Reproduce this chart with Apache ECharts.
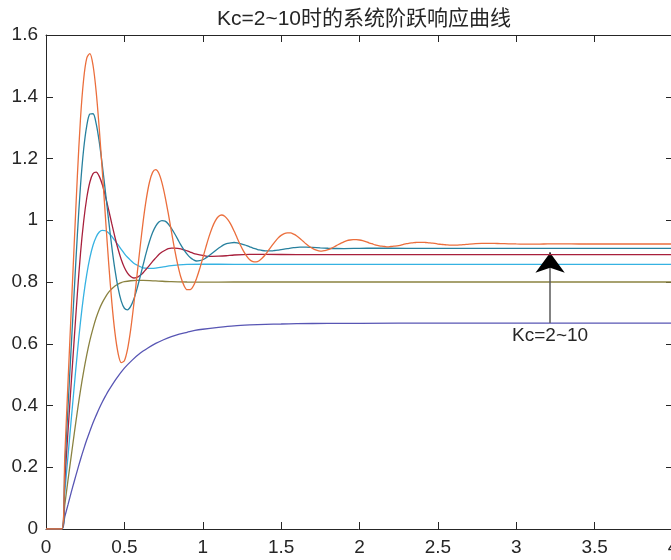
<!DOCTYPE html>
<html>
<head>
<meta charset="utf-8">
<script src="https://cdn.jsdelivr.net/npm/echarts@6/dist/echarts.min.js"></script>
<style>
  html, body { margin: 0; padding: 0; background: #ffffff; }
  #chart { width: 671px; height: 560px; }
</style>
</head>
<body>
<div id="chart"></div>
<script>
// Step responses of the P-controlled loop, one curve per gain Kc.
// Each entry is [time in s, output].
const kcValues = [2, 4, 6, 8, 10, 12];

const respKc2 = [
  [0, 0], [0.1, 0], [0.12, 0.040], [0.14, 0.078], [0.16, 0.117], [0.18, 0.154], [0.2, 0.190],
  [0.22, 0.225], [0.24, 0.258], [0.26, 0.289], [0.28, 0.317], [0.3, 0.344], [0.32, 0.368],
  [0.34, 0.391], [0.36, 0.412], [0.38, 0.431], [0.4, 0.449], [0.45, 0.488], [0.5, 0.521],
  [0.55, 0.547], [0.6, 0.569], [0.65, 0.586], [0.7, 0.601], [0.75, 0.613], [0.8, 0.623],
  [0.85, 0.631], [0.9, 0.637], [0.95, 0.643], [1.0, 0.647], [1.1, 0.653], [1.2, 0.658],
  [1.3, 0.661], [1.4, 0.663], [1.5, 0.664], [1.6, 0.665], [1.8, 0.666], [2.0, 0.6663],
  [2.5, 0.6666], [4, 0.6667]
];

const respKc4 = [
  [0, 0], [0.1, 0], [0.12, 0.079], [0.14, 0.157], [0.16, 0.233], [0.18, 0.308], [0.2, 0.381],
  [0.22, 0.449], [0.24, 0.510], [0.26, 0.564], [0.28, 0.611], [0.3, 0.650], [0.32, 0.684],
  [0.34, 0.712], [0.36, 0.734], [0.38, 0.752], [0.4, 0.767], [0.42, 0.778], [0.44, 0.787],
  [0.46, 0.793], [0.48, 0.798], [0.5, 0.801], [0.54, 0.804], [0.58, 0.805], [0.62, 0.805],
  [0.7, 0.8035], [0.8, 0.801], [0.9, 0.800], [1.0, 0.7997], [1.2, 0.800], [4, 0.800]
];

const respKc6 = [
  [0, 0], [0.1, 0], [0.12, 0.119], [0.14, 0.235], [0.16, 0.349], [0.18, 0.461], [0.2, 0.571],
  [0.22, 0.671], [0.24, 0.756], [0.26, 0.825], [0.28, 0.879], [0.3, 0.919], [0.32, 0.946],
  [0.34, 0.962], [0.36, 0.967], [0.38, 0.966], [0.4, 0.959], [0.42, 0.948], [0.44, 0.934],
  [0.46, 0.920], [0.48, 0.906], [0.5, 0.892], [0.52, 0.880], [0.54, 0.870], [0.56, 0.861],
  [0.58, 0.855], [0.6, 0.850], [0.62, 0.846], [0.64, 0.845], [0.66, 0.844], [0.68, 0.844],
  [0.7, 0.845], [0.74, 0.848], [0.8, 0.853], [0.9, 0.857], [1.0, 0.858], [1.2, 0.857], [4, 0.857]
];

const respKc8 = [
  [0, 0], [0.1, 0], [0.12, 0.158], [0.14, 0.314], [0.16, 0.466], [0.18, 0.615], [0.2, 0.761],
  [0.22, 0.892], [0.24, 0.995], [0.26, 1.072], [0.28, 1.124], [0.3, 1.151], [0.32, 1.156],
  [0.34, 1.142], [0.36, 1.114], [0.38, 1.076], [0.4, 1.033], [0.42, 0.988], [0.44, 0.945],
  [0.46, 0.906], [0.48, 0.873], [0.5, 0.847], [0.52, 0.829], [0.54, 0.818], [0.56, 0.813],
  [0.58, 0.815], [0.6, 0.821], [0.62, 0.830], [0.64, 0.842], [0.66, 0.854], [0.68, 0.867],
  [0.7, 0.878], [0.72, 0.889], [0.74, 0.897], [0.76, 0.903], [0.78, 0.908], [0.8, 0.910],
  [0.82, 0.910], [0.84, 0.909], [0.86, 0.907], [0.88, 0.904], [0.9, 0.901], [0.92, 0.897],
  [0.94, 0.893], [0.96, 0.890], [0.98, 0.888], [1.0, 0.886], [1.02, 0.884], [1.04, 0.883],
  [1.06, 0.883], [1.1, 0.8835], [1.15, 0.885], [1.2, 0.8875], [1.3, 0.8895], [1.4, 0.8893],
  [1.6, 0.8889], [4, 0.8889]
];

const respKc10 = [
  [0, 0], [0.1, 0], [0.12, 0.198], [0.14, 0.392], [0.16, 0.582], [0.18, 0.769], [0.2, 0.952],
  [0.22, 1.111], [0.24, 1.229], [0.26, 1.306], [0.28, 1.344], [0.3, 1.345], [0.32, 1.313],
  [0.34, 1.253], [0.36, 1.175], [0.38, 1.088], [0.4, 0.998], [0.42, 0.913], [0.44, 0.839],
  [0.46, 0.780], [0.48, 0.738], [0.5, 0.715], [0.52, 0.710], [0.54, 0.721], [0.56, 0.744],
  [0.58, 0.777], [0.6, 0.816], [0.62, 0.856], [0.64, 0.896], [0.66, 0.931], [0.68, 0.960],
  [0.7, 0.981], [0.72, 0.994], [0.74, 0.999], [0.76, 0.997], [0.78, 0.988], [0.8, 0.974],
  [0.82, 0.957], [0.84, 0.939], [0.86, 0.920], [0.88, 0.904], [0.9, 0.890], [0.92, 0.879],
  [0.94, 0.872], [0.96, 0.868], [0.98, 0.869], [1.0, 0.872], [1.02, 0.878], [1.04, 0.885],
  [1.06, 0.893], [1.08, 0.901], [1.1, 0.909], [1.12, 0.916], [1.14, 0.922], [1.16, 0.925],
  [1.18, 0.927], [1.2, 0.928], [1.22, 0.927], [1.24, 0.924], [1.26, 0.921], [1.28, 0.918],
  [1.3, 0.914], [1.32, 0.910], [1.34, 0.907], [1.36, 0.904], [1.38, 0.902], [1.4, 0.901],
  [1.42, 0.901], [1.44, 0.901], [1.46, 0.902], [1.48, 0.903], [1.5, 0.905], [1.54, 0.908],
  [1.58, 0.911], [1.62, 0.913], [1.66, 0.913], [1.7, 0.912], [1.75, 0.9105], [1.8, 0.9093],
  [1.85, 0.9085], [1.9, 0.9083], [2.0, 0.909], [2.1, 0.9095], [2.3, 0.9091], [4, 0.9091]
];

const respKc12 = [
  [0, 0], [0.1, 0], [0.12, 0.238], [0.14, 0.471], [0.16, 0.699], [0.18, 0.923], [0.2, 1.142],
  [0.22, 1.329], [0.24, 1.456], [0.26, 1.525], [0.28, 1.540], [0.3, 1.502], [0.32, 1.417],
  [0.34, 1.295], [0.36, 1.153], [0.38, 1.004], [0.4, 0.860], [0.42, 0.734], [0.44, 0.635],
  [0.46, 0.569], [0.48, 0.539], [0.5, 0.545], [0.52, 0.582], [0.54, 0.645], [0.56, 0.727],
  [0.58, 0.819], [0.6, 0.911], [0.62, 0.997], [0.64, 1.069], [0.66, 1.123], [0.68, 1.155],
  [0.7, 1.164], [0.72, 1.152], [0.74, 1.121], [0.76, 1.076], [0.78, 1.022], [0.8, 0.964],
  [0.82, 0.907], [0.84, 0.857], [0.86, 0.816], [0.88, 0.789], [0.9, 0.775], [0.92, 0.775],
  [0.94, 0.787], [0.96, 0.811], [0.98, 0.842], [1.0, 0.877], [1.02, 0.913], [1.04, 0.947],
  [1.06, 0.976], [1.08, 0.998], [1.1, 1.012], [1.12, 1.017], [1.14, 1.013], [1.16, 1.002],
  [1.18, 0.986], [1.2, 0.965], [1.22, 0.942], [1.24, 0.920], [1.26, 0.900], [1.28, 0.884],
  [1.3, 0.872], [1.32, 0.866], [1.34, 0.865], [1.36, 0.869], [1.38, 0.878], [1.4, 0.889],
  [1.42, 0.903], [1.44, 0.917], [1.46, 0.930], [1.48, 0.942], [1.5, 0.951], [1.52, 0.957],
  [1.54, 0.959], [1.56, 0.959], [1.58, 0.955], [1.6, 0.949], [1.62, 0.941], [1.64, 0.932],
  [1.66, 0.923], [1.68, 0.915], [1.7, 0.909], [1.72, 0.904], [1.74, 0.901], [1.76, 0.900],
  [1.78, 0.902], [1.8, 0.905], [1.82, 0.909], [1.84, 0.914], [1.86, 0.920], [1.88, 0.925],
  [1.9, 0.930], [1.92, 0.934], [1.94, 0.936], [1.96, 0.937], [1.98, 0.937], [2.0, 0.936],
  [2.02, 0.934], [2.04, 0.931], [2.06, 0.927], [2.08, 0.924], [2.1, 0.920], [2.12, 0.918],
  [2.14, 0.916], [2.16, 0.915], [2.18, 0.914], [2.2, 0.915], [2.22, 0.916], [2.24, 0.917],
  [2.26, 0.919], [2.28, 0.922], [2.3, 0.924], [2.32, 0.926], [2.34, 0.927], [2.36, 0.928],
  [2.38, 0.9286], [2.4, 0.9286], [2.42, 0.928], [2.44, 0.927], [2.46, 0.926], [2.48, 0.925],
  [2.5, 0.923], [2.52, 0.922], [2.54, 0.921], [2.56, 0.920], [2.58, 0.9197], [2.6, 0.9195],
  [2.62, 0.9197], [2.64, 0.920], [2.66, 0.921], [2.68, 0.9216], [2.7, 0.9225], [2.74, 0.924],
  [2.78, 0.925], [2.82, 0.9253], [2.86, 0.925], [2.9, 0.9245], [2.95, 0.9238], [3.0, 0.9232],
  [3.05, 0.9228], [3.1, 0.9227], [3.15, 0.9229], [3.2, 0.9233], [3.25, 0.9234], [3.35, 0.9232],
  [3.45, 0.923], [3.6, 0.9231], [4, 0.9231]
];

// Axis ranges and tick steps
const timeRange = [0, 4];
const timeStep = 0.5;
const outputRange = [0, 1.6];
const outputStep = 0.2;

// Annotation arrow (time, from output, to output) and its caption
const arrowTime = 3.216;
const arrowFrom = 0.667;
const arrowTo = 0.927;
const arrowCaption = 'Kc=2~10';
const titleText = 'Kc=2~10时的系统阶跃响应曲线';

// ---- styling ----
const lineColors = ['#5856b4', '#8a8240', '#36b2e2', '#a8203c', '#27809e', '#eb6e3c'];
const responses = [respKc2, respKc4, respKc6, respKc8, respKc10, respKc12];
const axisColor = '#262626';
const latinFont = "'Liberation Sans', Arial, Helvetica, sans-serif";
const titleFont = "'Liberation Sans', 'Noto Sans CJK SC', sans-serif";

const chart = echarts.init(document.getElementById('chart'), null, { renderer: 'canvas' });

function boxAxis(extra) {
  return Object.assign({
    type: 'value',
    axisLine: { show: true, onZero: false, lineStyle: { color: axisColor, width: 1 } },
    axisTick: { show: true, inside: true, length: 7, lineStyle: { color: axisColor, width: 1 } },
    splitLine: { show: false },
    axisLabel: { show: false }
  }, extra);
}

const series = responses.map((data, i) => ({
  type: 'line',
  name: 'Kc=' + kcValues[i],
  data: data,
  xAxisIndex: 0,
  yAxisIndex: 0,
  symbol: 'none',
  showSymbol: false,
  smooth: 0.3,
  clip: true,
  silent: true,
  z: 2 + i,
  lineStyle: { width: 1.3, color: lineColors[i] },
  itemStyle: { color: lineColors[i] }
}));

// Arrow and caption
series.push({
  type: 'line',
  data: [],
  xAxisIndex: 0,
  yAxisIndex: 0,
  silent: true,
  z: 20,
  markLine: {
    silent: true,
    symbol: ['none', 'none'],
    animation: false,
    label: { show: false },
    lineStyle: { color: '#5a5a5a', width: 1.5, type: 'solid' },
    data: [[{ coord: [arrowTime, arrowFrom] }, { coord: [arrowTime, arrowTo - 0.03] }]]
  },
  markPoint: {
    silent: true,
    animation: false,
    data: [
      {
        coord: [arrowTime, arrowTo],
        symbol: 'arrow',
        symbolSize: [22, 20],
        symbolOffset: [0, 10],
        itemStyle: { color: '#000000' },
        label: { show: false }
      },
      {
        coord: [arrowTime, arrowFrom],
        symbol: 'circle',
        symbolSize: 1,
        itemStyle: { color: 'rgba(0,0,0,0)' },
        label: {
          show: true, position: 'bottom', distance: 3,
          formatter: arrowCaption, color: axisColor,
          fontSize: 19, fontFamily: latinFont
        }
      }
    ]
  }
});

chart.setOption({
  animation: false,
  backgroundColor: '#ffffff',
  title: {
    text: titleText,
    left: 359,
    textAlign: 'center',
    top: 4,
    textStyle: { color: axisColor, fontSize: 21, fontWeight: 'normal', fontFamily: titleFont }
  },
  grid: {
    left: 46, top: 35, width: 627, height: 494,
    containLabel: false,
    outerBoundsMode: 'none'
  },
  xAxis: [
    boxAxis({
      position: 'bottom', min: timeRange[0], max: timeRange[1], interval: timeStep,
      axisLabel: { show: true, color: axisColor, fontSize: 19, fontFamily: latinFont, margin: 9 }
    }),
    boxAxis({ position: 'top', min: timeRange[0], max: timeRange[1], interval: timeStep })
  ],
  yAxis: [
    boxAxis({
      position: 'left', min: outputRange[0], max: outputRange[1], interval: outputStep,
      axisLabel: { show: true, color: axisColor, fontSize: 19, fontFamily: latinFont, margin: 8 }
    }),
    boxAxis({ position: 'right', min: outputRange[0], max: outputRange[1], interval: outputStep })
  ],
  series: series
});
</script>
</body>
</html>
